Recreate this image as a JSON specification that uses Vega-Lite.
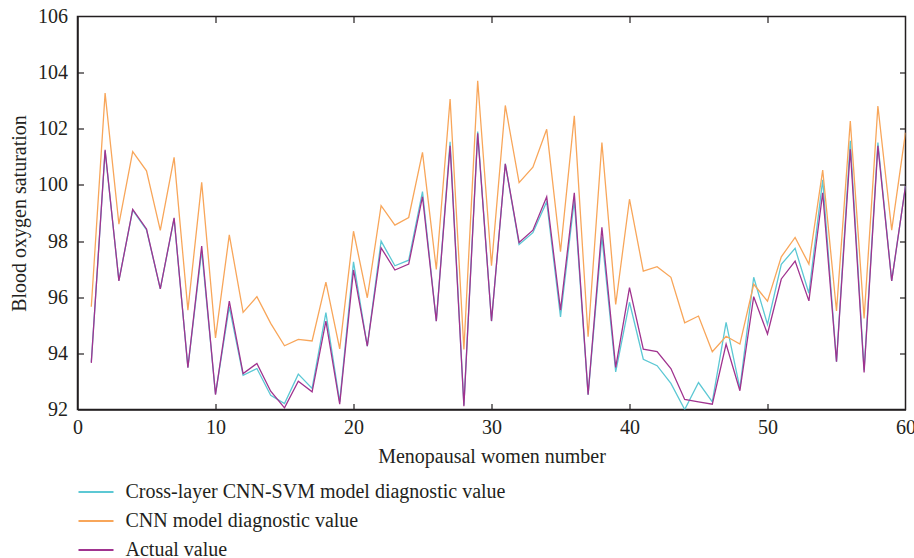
{
  "$schema": "https://vega.github.io/schema/vega-lite/v6.json",
  "width": 828,
  "height": 393,
  "autosize": {"type": "none"},
  "padding": {"left": 77.5, "top": 16.5, "right": 8.5, "bottom": 148.5},
  "background": "white",
  "config": {
    "view": {"stroke": "#231f20", "strokeWidth": 1.5},
    "font": "Liberation Serif",
    "axis": {
      "grid": false,
      "domainColor": "#231f20",
      "domainWidth": 1.5,
      "tickColor": "#231f20",
      "tickWidth": 1.2,
      "labelFont": "Liberation Serif",
      "titleFont": "Liberation Serif",
      "labelFontSize": 20,
      "titleFontSize": 20,
      "labelColor": "#231f20",
      "titleColor": "#231f20",
      "titleFontWeight": "normal"
    },
    "legend": {
      "labelFont": "Liberation Serif",
      "labelFontSize": 20,
      "labelColor": "#231f20",
      "labelLimit": 0
    }
  },
  "data": {
    "values": [
      {"n":1,"svm":93.70,"cnn":95.66,"actual":93.66},
      {"n":2,"svm":101.20,"cnn":103.27,"actual":101.25},
      {"n":3,"svm":96.60,"cnn":98.60,"actual":96.58},
      {"n":4,"svm":99.10,"cnn":101.19,"actual":99.13},
      {"n":5,"svm":98.40,"cnn":100.50,"actual":98.43},
      {"n":6,"svm":96.30,"cnn":98.38,"actual":96.30},
      {"n":7,"svm":98.80,"cnn":100.98,"actual":98.83},
      {"n":8,"svm":93.50,"cnn":95.54,"actual":93.49},
      {"n":9,"svm":97.65,"cnn":100.09,"actual":97.82},
      {"n":10,"svm":92.55,"cnn":94.55,"actual":92.53},
      {"n":11,"svm":95.66,"cnn":98.22,"actual":95.86},
      {"n":12,"svm":93.22,"cnn":95.46,"actual":93.28},
      {"n":13,"svm":93.46,"cnn":96.02,"actual":93.64},
      {"n":14,"svm":92.51,"cnn":95.07,"actual":92.65},
      {"n":15,"svm":92.21,"cnn":94.27,"actual":92.06},
      {"n":16,"svm":93.26,"cnn":94.50,"actual":93.01},
      {"n":17,"svm":92.75,"cnn":94.44,"actual":92.63},
      {"n":18,"svm":95.45,"cnn":96.54,"actual":95.15},
      {"n":19,"svm":92.27,"cnn":94.16,"actual":92.19},
      {"n":20,"svm":97.26,"cnn":98.35,"actual":96.97},
      {"n":21,"svm":94.26,"cnn":95.98,"actual":94.26},
      {"n":22,"svm":98.00,"cnn":99.26,"actual":97.76},
      {"n":23,"svm":97.12,"cnn":98.57,"actual":96.97},
      {"n":24,"svm":97.32,"cnn":98.84,"actual":97.18},
      {"n":25,"svm":99.76,"cnn":101.16,"actual":99.58},
      {"n":26,"svm":95.15,"cnn":96.99,"actual":95.15},
      {"n":27,"svm":101.54,"cnn":103.06,"actual":101.39},
      {"n":28,"svm":92.15,"cnn":94.14,"actual":92.12},
      {"n":29,"svm":101.90,"cnn":103.71,"actual":101.84},
      {"n":30,"svm":95.15,"cnn":97.12,"actual":95.15},
      {"n":31,"svm":100.75,"cnn":102.83,"actual":100.75},
      {"n":32,"svm":97.88,"cnn":100.08,"actual":97.95},
      {"n":33,"svm":98.30,"cnn":100.63,"actual":98.39},
      {"n":34,"svm":99.40,"cnn":101.98,"actual":99.58},
      {"n":35,"svm":95.30,"cnn":97.62,"actual":95.54},
      {"n":36,"svm":99.46,"cnn":102.46,"actual":99.72},
      {"n":37,"svm":92.53,"cnn":94.59,"actual":92.53},
      {"n":38,"svm":98.16,"cnn":101.51,"actual":98.49},
      {"n":39,"svm":93.34,"cnn":95.74,"actual":93.50},
      {"n":40,"svm":95.82,"cnn":99.49,"actual":96.34},
      {"n":41,"svm":93.79,"cnn":96.93,"actual":94.15},
      {"n":42,"svm":93.56,"cnn":97.09,"actual":94.06},
      {"n":43,"svm":92.93,"cnn":96.71,"actual":93.46},
      {"n":44,"svm":92.00,"cnn":95.09,"actual":92.36},
      {"n":45,"svm":92.96,"cnn":95.33,"actual":92.27},
      {"n":46,"svm":92.27,"cnn":94.06,"actual":92.19},
      {"n":47,"svm":95.10,"cnn":94.61,"actual":94.33},
      {"n":48,"svm":92.75,"cnn":94.33,"actual":92.67},
      {"n":49,"svm":96.71,"cnn":96.46,"actual":96.02},
      {"n":50,"svm":95.03,"cnn":95.86,"actual":94.69},
      {"n":51,"svm":97.17,"cnn":97.44,"actual":96.65},
      {"n":52,"svm":97.74,"cnn":98.13,"actual":97.29},
      {"n":53,"svm":96.14,"cnn":97.18,"actual":95.87},
      {"n":54,"svm":100.18,"cnn":100.53,"actual":99.72},
      {"n":55,"svm":93.70,"cnn":95.51,"actual":93.70},
      {"n":56,"svm":101.57,"cnn":102.28,"actual":101.27},
      {"n":57,"svm":93.40,"cnn":95.24,"actual":93.32},
      {"n":58,"svm":101.51,"cnn":102.81,"actual":101.39},
      {"n":59,"svm":96.58,"cnn":98.39,"actual":96.58},
      {"n":60,"svm":99.96,"cnn":101.86,"actual":99.96}
    ]
  },
  "transform": [
    {"fold": ["svm", "cnn", "actual"], "as": ["series", "value"]}
  ],
  "layer": [
    {
      "mark": {"type": "line", "strokeWidth": 1.3, "clip": true},
      "encoding": {
        "x": {
          "field": "n", "type": "quantitative",
          "scale": {"domain": [0, 60], "nice": false, "zero": false},
          "axis": {
            "orient": "bottom", "values": [0,10,20,30,40,50,60],
            "title": "Menopausal women number",
            "ticks": false, "labelPadding": 8, "titlePadding": 9,
            "labelFlush": false, "labelOverlap": false
          }
        },
        "y": {
          "field": "value", "type": "quantitative",
          "scale": {"domain": [92, 106], "nice": false, "zero": false},
          "axis": {
            "orient": "left", "values": [92,94,96,98,100,102,104,106],
            "title": "Blood oxygen saturation",
            "ticks": false, "labelPadding": 10, "titlePadding": 8,
            "labelFlush": false, "labelOverlap": false
          }
        },
        "color": {
          "field": "series", "type": "nominal",
          "scale": {
            "domain": ["svm", "cnn", "actual"],
            "range": ["#5cc8d4", "#f8a65a", "#a0338f"]
          },
          "legend": {
            "title": null,
            "orient": "none",
            "legendX": 0,
            "legendY": 457,
            "symbolType": "stroke",
            "symbolSize": 1225,
            "symbolStrokeWidth": 2,
            "labelOffset": 11,
            "rowPadding": -8.3,
            "labelExpr": "datum.value == 'svm' ? 'Cross-layer CNN-SVM model diagnostic value' : datum.value == 'cnn' ? 'CNN model diagnostic value' : 'Actual value'"
          }
        }
      }
    },
    {
      "mark": {"type": "line", "strokeOpacity": 0},
      "encoding": {
        "x": {
          "field": "n", "type": "quantitative",
          "axis": {"orient": "top", "values": [10,20,30,40,50], "labels": false, "title": null, "tickSize": 6, "offset": -6, "domain": false}
        },
        "y": {
          "field": "value", "type": "quantitative",
          "axis": {"orient": "right", "values": [94,96,98,100,102,104], "labels": false, "title": null, "tickSize": 6, "offset": -6, "domain": false}
        },
        "detail": {"field": "series"}
      }
    },
    {
      "mark": {"type": "line", "strokeOpacity": 0},
      "encoding": {
        "x": {
          "field": "n", "type": "quantitative",
          "axis": {"orient": "bottom", "values": [10,20,30,40,50], "labels": false, "title": null, "tickSize": 6, "offset": -6, "domain": false}
        },
        "y": {
          "field": "value", "type": "quantitative",
          "axis": {"orient": "left", "values": [94,96,98,100,102,104], "labels": false, "title": null, "tickSize": 6, "offset": -6, "domain": false}
        },
        "detail": {"field": "series"}
      }
    }
  ],
  "resolve": {"axis": {"x": "independent", "y": "independent"}}
}
